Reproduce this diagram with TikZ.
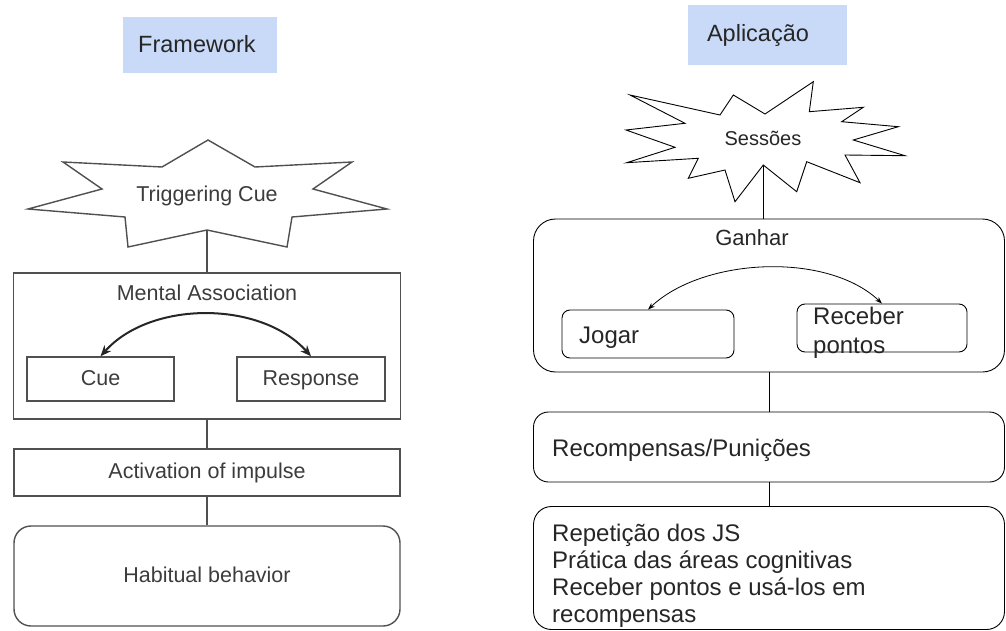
\documentclass[tikz,border=0pt]{standalone}
\usepackage{fontspec}
\setmainfont{Liberation Sans}
\usetikzlibrary{arrows.meta}
\definecolor{hdrblue}{HTML}{C9DAF8}
\definecolor{leftgray}{HTML}{3C3C3C}
\definecolor{leftline}{HTML}{505050}

\begin{document}
\begin{tikzpicture}[x=1pt,y=-1pt,
    hdr/.style={fill=hdrblue, inner sep=0pt},
    hdrtxt/.style={anchor=base, inner sep=0pt, text=black!85, font=\fontsize{23.5}{26}\selectfont},
    lbox/.style={draw=leftline, line width=1.4pt, inner sep=0pt, text height=16.5pt, text depth=4.5pt,
      text=leftgray, font=\fontsize{21.5}{24}\selectfont},
    ltxt/.style={anchor=base, inner sep=0pt, text=leftgray, font=\fontsize{21.5}{24}\selectfont},
    lline/.style={draw=leftline, line width=1.4pt},
    rbox/.style={draw, line width=0.9pt, inner sep=0pt},
    rtxt/.style={inner sep=0pt, text=black!85, font=\fontsize{24}{27}\selectfont},
    rline/.style={draw, line width=0.9pt}]
  \useasboundingbox (0,0) rectangle (1006,631);

  % headers
  \node[hdr, minimum width=154, minimum height=56] (fwbox) at (200,45) {};
  \node[hdrtxt] (fwtxt) at (197,52.5) {Framework};
  \node[hdr, minimum width=159, minimum height=60] (apbox) at (767.5,35) {};
  \node[hdrtxt] (aptxt) at (758,41.7) {Aplicação};

  % framework side
  \draw[lline, fill=white] (208,140) -- (255,167) -- (352,162) -- (313,189) -- (387,209)
    -- (292,217) -- (287,247) -- (207,230) -- (128,247) -- (125,217) -- (28,209)
    -- (102,189) -- (63,162) -- (162,167) -- cycle;
  \node[ltxt] (trigtxt) at (207,201) {Triggering Cue};
  \coordinate (trigbot) at (207,230);

  \node[lbox, minimum width=387, minimum height=146] (ma) at (207,346) {};
  \node[ltxt] (matxt) at (207,300) {Mental Association};
  \node[lbox, minimum width=147, minimum height=44] (cue) at (100.5,379) {Cue};
  \node[lbox, minimum width=148, minimum height=44] (resp) at (311,379) {Response};
  \node[lbox, minimum width=386, minimum height=47] (act) at (207,472.5) {Activation of impulse};
  \node[lbox, rounded corners=17, minimum width=386, minimum height=100] (hab) at (207,576) {Habitual behavior};

  \draw[lline] (trigbot) -- (trigbot |- ma.north);
  \draw[lline] (ma.south) -- (act.north);
  \draw[lline] (act.south) -- (hab.north);
  \draw[draw=black!85, line width=2pt, {Stealth[length=11pt,width=9pt]}-{Stealth[length=11pt,width=9pt]}]
    (cue.north) .. controls +(50,-56) and +(-50,-56) .. (resp.north);

  % application side
  \draw[rline, fill=white] (813.3,81.7) -- (809.3,111.7) -- (863.3,107.3) -- (841.7,121.7)
    -- (898.3,126.7) -- (853.3,140) -- (905,155.7) -- (845,155) -- (860,182.7)
    -- (806.7,161.7) -- (796.7,191.7) -- (763.3,165) -- (735,201.7) -- (725,170)
    -- (688.3,178.3) -- (698.3,158.3) -- (626.7,162.7) -- (675,147.3) -- (626,130)
    -- (685,123.3) -- (630,95) -- (720,115) -- (733.3,95) -- (765,114) -- cycle;
  \node[rtxt, anchor=base, font=\fontsize{20}{24}\selectfont] (sestxt) at (763,146) {Sessões};
  \coordinate (sesbot) at (763.3,165);

  \node[rbox, rounded corners=22, minimum width=471, minimum height=153] (gan) at (769,295.5) {};
  \node[rtxt, anchor=base, font=\fontsize{22}{26}\selectfont] (gantxt) at (752,245) {Ganhar};
  \node[rbox, rounded corners=8, minimum width=172, minimum height=48] (jog) at (648,334) {};
  \node[rtxt, anchor=base west] (jogtxt) at (579,343) {Jogar};
  \node[rbox, rounded corners=8, minimum width=170, minimum height=48] (rcb) at (882,328) {};
  \node[rtxt, anchor=north west, align=left, font=\fontsize{24}{29.4}\selectfont] (rcbtxt) at (813,306.5) {Receber\\pontos};

  \node[rbox, rounded corners=15, minimum width=471, minimum height=70] (rec) at (769,447) {};
  \node[rtxt, anchor=base west] (rectxt) at (552,456) {Recompensas/Punições};
  \node[rbox, rounded corners=18, minimum width=471, minimum height=123] (rep) at (769,568) {};
  \node[rtxt, anchor=north west, align=left] (reptxt) at (552,523.8)
    {Repetição dos JS\\Prática das áreas cognitivas\\Receber pontos e usá-los em\\recompensas};

  \draw[rline] (sesbot) -- (sesbot |- gan.north);
  \draw[rline] (gan.south) -- (rec.north);
  \draw[rline] (rec.south) -- (rep.north);
  \draw[line width=0.8pt, {Stealth[length=7pt,width=5pt]}-{Stealth[length=7pt,width=5pt]}]
    (jog.north) .. controls +(55,-52) and +(-55,-52) .. (rcb.north);
\end{tikzpicture}
\end{document}
